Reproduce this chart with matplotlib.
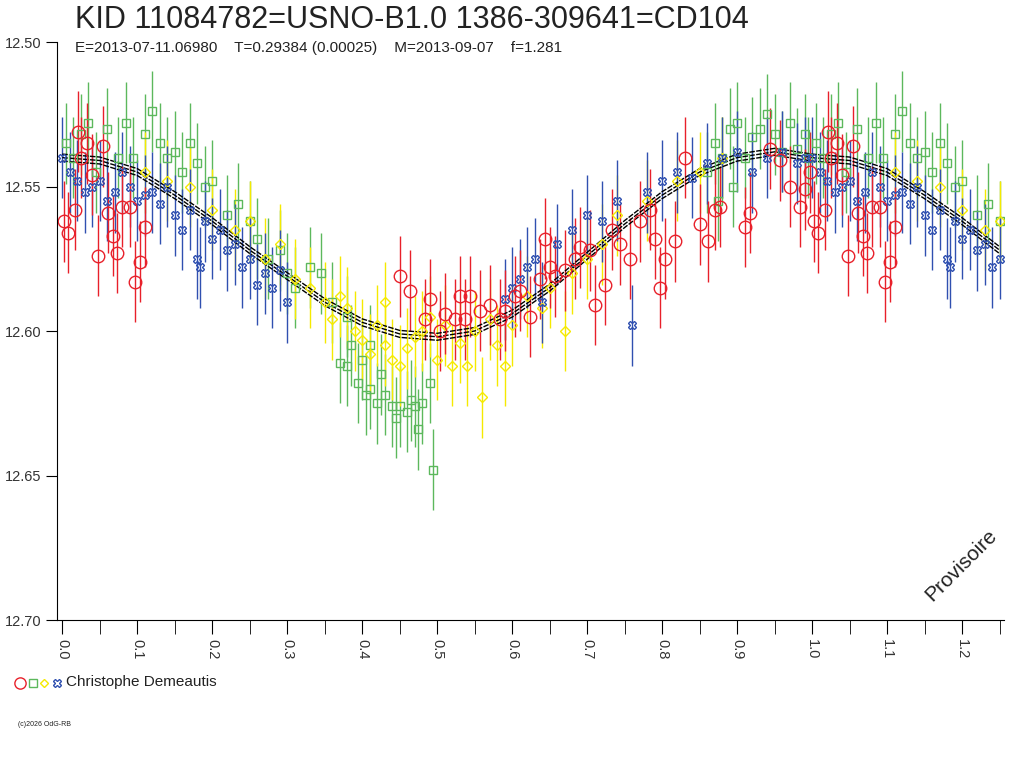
import matplotlib
matplotlib.use("Agg")
import matplotlib.pyplot as plt
import numpy as np
plt.rcParams['font.family'] = ['Liberation Sans', 'DejaVu Sans']

red_ph = [0.003,0.008,0.017,0.025,0.033,0.040,0.048,0.055,0.061,0.068,0.073,0.080,0.091,0.097,0.104,0.110,0.021,
          0.451,0.464,0.484,0.491,0.504,0.511,0.524,0.531,0.537,0.544,0.557,0.571,0.584,0.591,0.604,0.611,0.624,0.637,
          0.644,0.651,0.657,0.671,0.684,0.691,0.704,0.711,0.724,0.733,0.744,0.757,0.771,0.784,0.791,0.797,0.804,0.817,
          0.831,0.851,0.861,0.871,0.877,0.911,0.917,0.944,0.957,0.971,0.984,0.991,0.997]
red_mag = [12.562,12.566,12.558,12.540,12.535,12.546,12.574,12.536,12.559,12.567,12.573,12.557,12.557,12.583,12.576,12.564,12.531,
           12.581,12.586,12.596,12.589,12.600,12.594,12.596,12.588,12.596,12.588,12.593,12.591,12.596,12.593,12.588,12.586,12.595,12.582,
           12.568,12.578,12.581,12.579,12.575,12.571,12.572,12.591,12.584,12.565,12.570,12.575,12.562,12.558,12.568,12.585,12.575,12.569,
           12.540,12.563,12.569,12.558,12.557,12.564,12.559,12.537,12.541,12.550,12.557,12.551,12.545]

green_ph = [0.005,0.015,0.025,0.035,0.045,0.06,0.075,0.085,0.095,0.11,0.12,0.13,0.14,0.15,0.16,0.17,0.18,0.19,0.2,
            0.22,0.235,0.25,0.26,0.275,0.29,0.3,0.31,0.33,0.345,0.36,0.37,0.38,0.385,0.395,0.4,0.405,0.41,0.42,0.425,
            0.43,0.44,0.445,0.45,0.46,0.465,0.47,0.475,0.48,0.49,0.495,0.38,0.41,
            0.86,0.87,0.88,0.89,0.9,0.91,0.92,0.93,0.94,0.95,0.96,0.97,0.98,0.99,0.995,0.875,0.895]
green_mag = [12.535,12.540,12.532,12.528,12.545,12.530,12.540,12.528,12.540,12.532,12.524,12.535,12.540,12.538,12.545,12.535,12.542,12.550,12.548,
             12.560,12.556,12.562,12.568,12.575,12.572,12.580,12.585,12.578,12.580,12.590,12.611,12.612,12.605,12.618,12.610,12.622,12.620,12.625,12.615,
             12.622,12.626,12.630,12.626,12.628,12.624,12.626,12.634,12.625,12.618,12.648,12.595,12.605,
             12.545,12.535,12.540,12.530,12.528,12.540,12.533,12.530,12.525,12.532,12.538,12.528,12.537,12.532,12.540,12.555,12.550]

yellow_ph = [0.11,0.14,0.17,0.2,0.23,0.25,0.27,0.29,0.31,0.33,0.35,0.36,0.38,0.39,0.4,0.41,0.42,0.43,0.44,0.45,0.46,0.47,
             0.48,0.49,0.5,0.51,0.52,0.53,0.54,0.55,0.56,0.57,0.58,0.59,0.6,0.62,0.64,0.65,0.67,0.68,0.7,0.72,0.74,0.78,
             0.82,0.85,0.88,0.37,0.43]
yellow_mag = [12.545,12.548,12.550,12.558,12.565,12.562,12.575,12.570,12.582,12.585,12.590,12.596,12.592,12.600,12.603,12.608,12.598,12.605,12.610,12.612,12.606,12.602,
              12.600,12.595,12.610,12.598,12.612,12.604,12.612,12.600,12.623,12.596,12.605,12.612,12.598,12.588,12.592,12.585,12.600,12.580,12.575,12.570,12.560,12.555,
              12.548,12.545,12.540,12.588,12.590]

blue_ph = [0.0,0.01,0.02,0.03,0.04,0.05,0.06,0.07,0.08,0.09,0.1,0.11,0.12,0.13,0.14,0.15,0.16,0.17,0.18,0.19,0.2,0.21,0.22,
           0.23,0.24,0.25,0.26,0.27,0.28,0.29,0.30,0.59,0.6,0.61,0.62,0.63,0.64,0.66,0.68,0.7,0.72,0.74,0.76,0.78,0.8,0.82,
           0.84,0.86,0.88,0.9,0.92,0.94,0.96,0.98,0.99,0.184]
blue_mag = [12.540,12.545,12.548,12.552,12.550,12.548,12.555,12.552,12.545,12.550,12.555,12.553,12.552,12.556,12.550,12.560,12.565,12.558,12.575,12.562,12.568,12.565,12.572,
            12.570,12.578,12.575,12.584,12.580,12.585,12.579,12.590,12.589,12.585,12.582,12.578,12.575,12.590,12.570,12.565,12.560,12.562,12.555,12.598,12.552,12.548,12.545,
            12.547,12.542,12.540,12.538,12.545,12.540,12.538,12.542,12.540,12.578]

fit_ph = [0.0,0.05,0.1,0.15,0.2,0.25,0.3,0.35,0.4,0.45,0.5,0.55,0.6,0.65,0.7,0.75,0.8,0.85,0.9,0.95,1.0]
fit_mag = [12.540,12.541,12.545,12.553,12.562,12.572,12.581,12.590,12.597,12.601,12.602,12.600,12.594,12.585,12.574,12.563,12.553,12.545,12.540,12.538,12.540]
fit_err = 0.0012
mag_err = 0.014

fig = plt.figure(figsize=(10.24, 7.68), dpi=100)
ax = fig.add_axes([57/1024, 1-620/768, (1004-57)/1024, (620-42)/768])
ax.set_xlim(-0.007, 1.256)
ax.set_ylim(12.70, 12.50)

def wrap(ph, mg):
    ph = np.array(ph); mg = np.array(mg)
    m = ph + 1 <= 1.256
    return np.concatenate([ph, ph[m] + 1]), np.concatenate([mg, mg[m]])

series = [(green_ph, green_mag, '#5cb85c', 's', 6),
          (yellow_ph, yellow_mag, '#f5ea00', 'D', 5),
          (blue_ph, blue_mag, '#3050b0', 'X', 6),
          (red_ph, red_mag, '#e8202a', 'o', 9)]
for ph, mg, c, mk, ms in series:
    x, y = wrap(ph, mg)
    ax.errorbar(x, y, yerr=mag_err, fmt=mk, mfc='none', mec=c, ecolor=c,
                ms=ms, mew=1, elinewidth=1, capsize=0)

fx, fy = wrap(fit_ph[:-1], fit_mag[:-1])
o = np.argsort(fx)
fx, fy = fx[o], fy[o]
for d in (-fit_err, 0, fit_err):
    ax.plot(fx, fy + d, color='black', lw=1, ls=(0, (4, 1)))

for s in ('top', 'right'):
    ax.spines[s].set_visible(False)
ax.set_yticks([12.50, 12.55, 12.60, 12.65, 12.70])
ax.set_yticklabels(['12.50', '12.55', '12.60', '12.65', '12.70'], fontsize=10.5, color='#333333')
ax.set_xticks(np.arange(0, 1.25, 0.1))
ax.set_xticklabels([f'{v:.1f}' for v in np.arange(0, 1.25, 0.1)], rotation=-90, fontsize=10.5, color='#333333')
ax.set_xticks(np.arange(0.05, 1.26, 0.1), minor=True)
ax.tick_params(axis='x', which='both', direction='out', length=10)
ax.tick_params(axis='y', direction='out', length=8)

fig.text(75/1024, 1-20/768, 'KID 11084782=USNO-B1.0 1386-309641=CD104', fontsize=22, va='center', color='#222222')
fig.text(75/1024, 1-48/768, 'E=2013-07-11.06980    T=0.29384 (0.00025)    M=2013-09-07    f=1.281',
         fontsize=11, va='center', color='#222222')
ax.text(0.955, 0.095, 'Provisoire', transform=ax.transAxes, rotation=45, fontsize=15,
        ha='center', va='center', color='#222222')

lx = [20/1024, 33/1024, 44/1024, 57/1024]
for (ph, mg, c, mk, ms), xx in zip([series[3], series[0], series[1], series[2]], lx):
    fig.lines.append(plt.Line2D([xx], [1-683/768], marker=mk, mfc='none', mec=c, ms=ms*0.9,
                                transform=fig.transFigure, ls='none'))
fig.text(66/1024, 1-682/768, 'Christophe Demeautis', fontsize=11, va='center', color='#222222')
fig.text(18/1024, 1-725/768, '(c)2026 OdG-RB', fontsize=5, va='center', color='#222222')

fig.savefig('out.png', dpi=100)
